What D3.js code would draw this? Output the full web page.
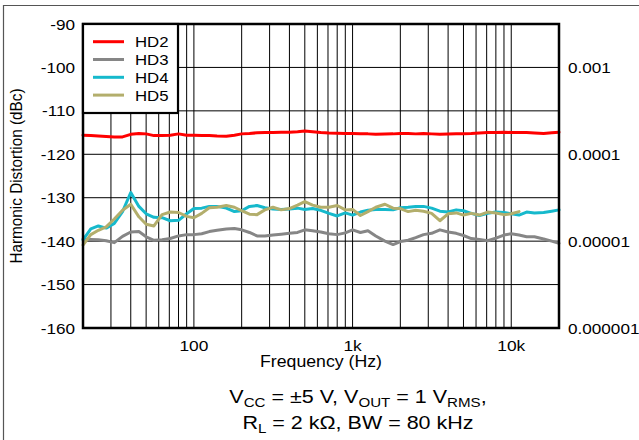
<!DOCTYPE html>
<html>
<head>
<meta charset="utf-8">
<script src="https://cdn.jsdelivr.net/npm/d3@7"></script>
<style>
  body { margin: 0; background: #fff; }
  svg { display: block; font-family: "Liberation Sans", Arial, sans-serif; }
</style>
</head>
<body>
<div id="chart"></div>
<script>
// --- data ---
const freqHz = [20, 22.4, 25, 28, 31.5, 35.5, 40, 45, 50, 56, 63, 71, 80, 90,
  100, 112, 125, 140, 160, 180, 200, 224, 250, 280, 315, 355, 400, 450, 500, 560, 630, 710, 800, 900,
  1000, 1120, 1250, 1400, 1600, 1800, 2000, 2240, 2500, 2800, 3150, 3550, 4000, 4500, 5000, 5600, 6300, 7100, 8000, 9000,
  10000, 11200, 12500, 14000, 16000, 18000, 20000];

const hd2 = [-115.6, -115.7, -115.8, -115.9, -116.0, -116.0, -115.4, -115.2, -115.3, -115.7,
  -115.7, -115.6, -115.3, -115.6, -115.6, -115.7, -115.7, -115.8, -115.85, -115.6,
  -115.3, -115.2, -115.05, -115.0, -115.0, -114.95, -114.9, -114.8, -114.65, -114.8,
  -115.0, -115.1, -115.15, -115.2, -115.2, -115.25, -115.3, -115.4, -115.35, -115.3,
  -115.2, -115.2, -115.3, -115.2, -115.3, -115.4, -115.35, -115.3, -115.25, -115.2,
  -115.1, -115.0, -115.0, -114.9, -115.0, -115.0, -115.0, -115.1, -115.2, -115.05,
  -114.9];

const hd3 = [-139.5, -139.6, -139.7, -139.9, -140.35, -138.9, -137.9, -137.8, -139.0, -139.8,
  -139.7, -139.4, -138.8, -138.5, -138.5, -138.3, -137.8, -137.5, -137.2, -137.1,
  -137.4, -138.0, -138.8, -138.8, -138.6, -138.4, -138.2, -138.0, -137.4, -137.6,
  -137.9, -138.3, -138.5, -138.1, -137.4, -138.0, -137.6, -138.8, -140.0, -140.8,
  -140.1, -139.8, -139.2, -138.5, -138.2, -137.4, -137.9, -138.2, -138.7, -139.4,
  -139.6, -139.9, -139.3, -138.6, -138.3, -138.6, -139.0, -139.0, -139.5, -140.0,
  -140.5];

const hd4 = [-139.7, -137.2, -136.5, -137.0, -135.9, -133.2, -128.8, -132.0, -133.7, -134.5,
  -134.6, -135.3, -135.2, -133.7, -132.5, -132.4, -132.0, -132.0, -132.4, -133.2,
  -133.0, -132.0, -131.8, -132.3, -132.6, -132.7, -132.6, -132.4, -132.7, -132.5,
  -132.9, -133.6, -134.2, -133.5, -134.0, -133.3, -132.9, -132.7, -132.7, -132.8,
  -132.3, -132.2, -132.0, -132.0, -132.4, -133.1, -133.3, -132.8, -133.0, -133.6,
  -134.1, -133.6, -133.3, -133.4, -133.7, -134.0, -133.3, -133.5, -133.4, -133.1,
  -132.8];

// HD5 trace stops near 11.5 kHz
const hd5 = [-140.9, -138.5, -137.5, -136.7, -134.9, -132.9, -131.5, -134.4, -136.1, -136.5,
  -133.9, -133.3, -133.4, -134.3, -134.6, -133.6, -132.3, -132.2, -131.8, -132.2,
  -133.0, -133.8, -133.9, -132.8, -132.2, -132.8, -132.5, -131.7, -130.9, -131.7,
  -132.2, -132.2, -131.8, -132.8, -132.7, -134.1, -133.2, -132.2, -131.5, -132.4,
  -132.5, -133.2, -132.9, -133.1, -133.6, -135.3, -133.7, -133.5, -134.0, -133.6,
  -134.0, -133.3, -133.5, -133.9, -133.7, -133.2, null, null, null, null,
  null];

const seriesNames = ["HD2", "HD3", "HD4", "HD5"];
const seriesColors = ["#ff0000", "#868686", "#16b9cc", "#b3ae6c"];
const seriesValues = [hd2, hd3, hd4, hd5];

const yGridDbc = [-100, -110, -120, -130, -140, -150];
const yLabelDbc = [-90, -100, -110, -120, -130, -140, -150, -160];
const yRightDbc = [-100, -120, -140, -160];
const yRightLabels = ["0.001", "0.0001", "0.00001", "0.000001"];
const xGridHz = [30, 40, 50, 60, 70, 80, 90, 100, 200, 300, 400, 500, 600, 700, 800, 900,
  1000, 2000, 3000, 4000, 5000, 6000, 7000, 8000, 9000, 10000];
const xLabelHz = [100, 1000, 10000];
const xLabelText = ["100", "1k", "10k"];

// --- layout ---
const width = 639, height = 440;
const plot = { left: 83, right: 559, top: 24, bottom: 328 };
const SX = 1.12; // reference text is slightly wide

const svg = d3.select("#chart").append("svg")
  .attr("width", width).attr("height", height);

const x = d3.scaleLog().domain([20, 20000]).range([plot.left, plot.right]);
const y = d3.scaleLinear().domain([-160, -90]).range([plot.bottom, plot.top]);

function wideText(sel, tx, ty, extra = "") {
  return sel.attr("transform", `translate(${tx},${ty}) scale(${SX},1)${extra}`);
}

// outer frame (top + left only)
svg.append("path")
  .attr("d", `M3.5,${height} V5.5 H${width}`)
  .attr("fill", "none").attr("stroke", "#555").attr("stroke-width", 1.2);

// grid
const grid = svg.append("g").attr("stroke", "#000").attr("stroke-width", 1);
grid.selectAll("line.v").data(xGridHz).join("line").attr("class", "v")
  .attr("x1", d => x(d)).attr("x2", d => x(d))
  .attr("y1", plot.top).attr("y2", plot.bottom);
grid.selectAll("line.h").data(yGridDbc).join("line").attr("class", "h")
  .attr("x1", plot.left).attr("x2", plot.right)
  .attr("y1", d => y(d)).attr("y2", d => y(d));

// data lines
const line = d3.line()
  .defined(d => d[1] != null)
  .x(d => x(d[0]))
  .y(d => y(d[1]));

svg.append("g").selectAll("path")
  .data(seriesValues.map((vals, i) => ({ i, pts: freqHz.map((f, k) => [f, vals[k]]) })))
  .join("path")
  .attr("d", d => line(d.pts))
  .attr("fill", "none")
  .attr("stroke", d => seriesColors[d.i])
  .attr("stroke-width", 3)
  .attr("stroke-linejoin", "round")
  .attr("stroke-linecap", "round");

// plot border
svg.append("rect")
  .attr("x", plot.left).attr("y", plot.top)
  .attr("width", plot.right - plot.left).attr("height", plot.bottom - plot.top)
  .attr("fill", "none").attr("stroke", "#000").attr("stroke-width", 2.5);

// legend
const lg = svg.append("g");
lg.append("rect")
  .attr("x", plot.left).attr("y", plot.top)
  .attr("width", 95).attr("height", 89)
  .attr("fill", "#fff").attr("stroke", "#000").attr("stroke-width", 2.2);
seriesNames.forEach((name, i) => {
  const ly = 41.7 + i * 17.8;
  lg.append("line")
    .attr("x1", 93).attr("x2", 124).attr("y1", ly).attr("y2", ly)
    .attr("stroke", seriesColors[i]).attr("stroke-width", 3);
  lg.append("text")
    .attr("font-size", 15)
    .call(wideText, 135, ly + 5.4)
    .text(name);
});

// left tick labels
svg.append("g").selectAll("text")
  .data(yLabelDbc).join("text")
  .attr("font-size", 15.3).attr("text-anchor", "end")
  .each(function (d) { wideText(d3.select(this), 75, y(d) + 5.5); })
  .text(d => d);

// right tick labels
svg.append("g").selectAll("text")
  .data(yRightDbc).join("text")
  .attr("font-size", 15.3).attr("text-anchor", "start")
  .each(function (d) { wideText(d3.select(this), 568, y(d) + 5.5); })
  .text((d, i) => yRightLabels[i]);

// bottom tick labels
svg.append("g").selectAll("text")
  .data(xLabelHz).join("text")
  .attr("font-size", 15.5).attr("text-anchor", "middle")
  .each(function (d) { wideText(d3.select(this), x(d), 351); })
  .text((d, i) => xLabelText[i]);

// axis titles
svg.append("text")
  .attr("font-size", 15.8).attr("text-anchor", "middle")
  .call(wideText, (plot.left + plot.right) / 2, 367)
  .text("Frequency (Hz)");

svg.append("text")
  .attr("font-size", 15.3).attr("text-anchor", "middle")
  .call(wideText, 22, (plot.top + plot.bottom) / 2, " rotate(-90)")
  .text("Harmonic Distortion (dBc)");

// conditions note
const note = svg.append("g").attr("font-size", 19.2).attr("text-anchor", "middle");
const t1 = note.append("text").call(wideText, 358, 403);
t1.append("tspan").text("V");
t1.append("tspan").attr("font-size", 13.5).attr("dy", 4).text("CC");
t1.append("tspan").attr("dy", -4).text(" = ±5 V, V");
t1.append("tspan").attr("font-size", 13.5).attr("dy", 4).text("OUT");
t1.append("tspan").attr("dy", -4).text(" = 1 V");
t1.append("tspan").attr("font-size", 13.5).attr("dy", 4).text("RMS");
t1.append("tspan").attr("dy", -4).text(",");

const t2 = note.append("text").call(wideText, 358, 429);
t2.append("tspan").text("R");
t2.append("tspan").attr("font-size", 13.5).attr("dy", 4).text("L");
t2.append("tspan").attr("dy", -4).text(" = 2 kΩ, BW = 80 kHz");
</script>
</body>
</html>
